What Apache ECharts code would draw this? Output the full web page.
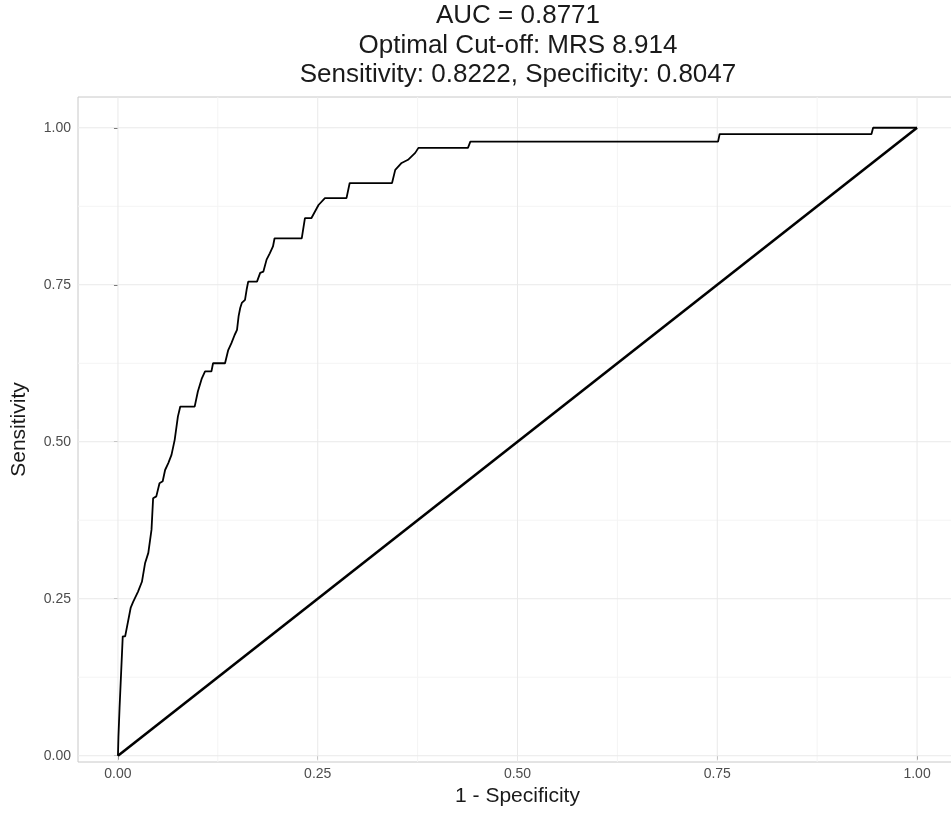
<!DOCTYPE html>
<html><head><meta charset="utf-8">
<script src="https://cdn.jsdelivr.net/npm/echarts@6/dist/echarts.min.js"></script>
<style>html,body{margin:0;padding:0;background:#fff}#c{width:951px;height:839px}</style>
</head><body><div id="c"></div><script>
// ROC curve vertices (1 - specificity, sensitivity)
const fpr = [0, 0.0006, 0.002, 0.006, 0.009, 0.016, 0.019, 0.025, 0.030, 0.034, 0.038, 0.042, 0.044, 0.048, 0.052, 0.056, 0.059, 0.063, 0.067, 0.071, 0.075, 0.078, 0.096, 0.100, 0.105, 0.109, 0.117, 0.119, 0.134, 0.138, 0.142, 0.146, 0.149, 0.151, 0.153, 0.155, 0.159, 0.161, 0.163, 0.174, 0.178, 0.182, 0.186, 0.190, 0.194, 0.196, 0.230, 0.234, 0.242, 0.251, 0.259, 0.286, 0.290, 0.343, 0.347, 0.355, 0.363, 0.372, 0.376, 0.438, 0.441, 0.751, 0.753, 0.943, 0.945, 1];
const tpr = [0, 0.030, 0.076, 0.190, 0.190, 0.236, 0.245, 0.261, 0.277, 0.307, 0.323, 0.360, 0.410, 0.413, 0.434, 0.437, 0.455, 0.466, 0.479, 0.503, 0.540, 0.556, 0.556, 0.580, 0.601, 0.612, 0.612, 0.625, 0.625, 0.646, 0.657, 0.670, 0.678, 0.700, 0.713, 0.721, 0.726, 0.742, 0.755, 0.755, 0.769, 0.771, 0.790, 0.800, 0.811, 0.824, 0.824, 0.856, 0.856, 0.877, 0.888, 0.888, 0.912, 0.912, 0.933, 0.944, 0.949, 0.960, 0.968, 0.968, 0.978, 0.978, 0.990, 0.990, 1, 1];
// reference diagonal
const diagX = [0, 1];
const diagY = [0, 1];
// axis ticks
const majorTicks = [0, 0.25, 0.5, 0.75, 1];
const minorTicks = [0.125, 0.375, 0.625, 0.875];
const titleLines = ['AUC = 0.8771', 'Optimal Cut-off: MRS 8.914', 'Sensitivity: 0.8222, Specificity: 0.8047'];
const xTitle = '1 - Specificity';
const yTitle = 'Sensitivity';

const FONT = '"Liberation Sans", Arial, sans-serif';
const XLO = -0.05, XHI = 1.05;
const YLO = -0.01, YHI = 1.049;

const chart = echarts.init(document.getElementById('c'), null, {renderer: 'canvas'});

const gridSeries = [];
function addGrid(vals, color) {
  vals.forEach(v => {
    gridSeries.push({type: 'line', data: [[v, YLO], [v, YHI]], symbol: 'none', silent: true, z: 1,
      lineStyle: {color: color, width: 1}});
    gridSeries.push({type: 'line', data: [[XLO, v], [XHI, v]], symbol: 'none', silent: true, z: 1,
      lineStyle: {color: color, width: 1}});
  });
}
addGrid(minorTicks, '#f4f4f4');
addGrid(majorTicks, '#e9e9e9');

function axis(lo, hi, name, gap, margin) {
  return {
    type: 'value', min: lo, max: hi,
    splitLine: {show: false},
    axisLine: {show: false},
    axisTick: {show: true, customValues: majorTicks, length: 4, lineStyle: {color: '#555'}},
    axisLabel: {customValues: majorTicks, formatter: v => v.toFixed(2), color: '#4d4d4d', fontSize: 14, fontFamily: FONT, margin: margin},
    name: name, nameLocation: 'middle', nameGap: gap,
    nameTextStyle: {color: '#1a1a1a', fontSize: 21, fontFamily: FONT}
  };
}

chart.setOption({
  animation: false,
  backgroundColor: '#ffffff',
  grid: {left: 78, right: -6, top: 97, bottom: 77, show: true, borderColor: '#c8c8c8', borderWidth: 1, containLabel: false, outerBoundsMode: 'none'},
  xAxis: axis(XLO, XHI, xTitle, 21, 5),
  yAxis: axis(YLO, YHI, yTitle, 48, 7),
  graphic: titleLines.map((t, i) => ({
    type: 'text', x: 518, y: 16 + i * 29.5, silent: true,
    style: {text: t, fill: '#1a1a1a', font: '26px ' + FONT, textAlign: 'center', textVerticalAlign: 'middle'}
  })),
  series: gridSeries.concat([
    {type: 'line', data: diagX.map((x, i) => [x, diagY[i]]), symbol: 'none', z: 3,
      lineStyle: {color: '#000', width: 2.6}},
    {type: 'line', data: fpr.map((x, i) => [x, tpr[i]]), symbol: 'none', z: 4,
      lineStyle: {color: '#000', width: 1.8}}
  ])
});
</script></body></html>
